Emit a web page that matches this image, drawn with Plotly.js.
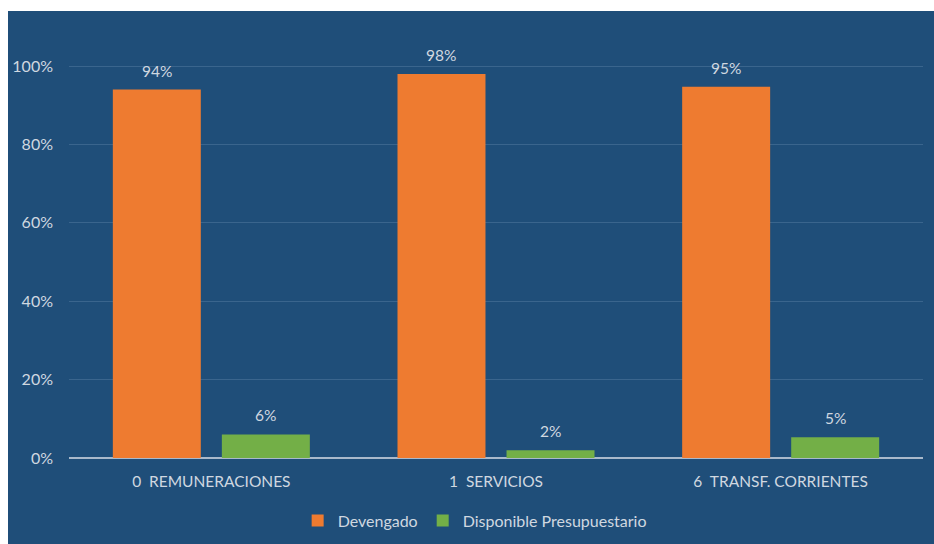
<!DOCTYPE html>
<html>
<head>
<meta charset="utf-8">
<script src="https://cdn.plot.ly/plotly-3.0.1.min.js"></script>
<style>
html,body{margin:0;padding:0;background:#ffffff;}
#chart{position:absolute;left:8px;top:11px;width:926px;height:533px;}
</style>
</head>
<body>
<div id="chart"></div>
<script>
const categories = ["0\u00a0\u00a0REMUNERACIONES", "1\u00a0\u00a0SERVICIOS", "6\u00a0\u00a0TRANSF.\u00a0CORRIENTES"];
const devengado = [0.94, 0.98, 0.947];
const disponible = [0.06, 0.02, 0.053];
const seriesNames = ["Devengado", "Disponible Presupuestario"];
const yTickVals = [0, 0.2, 0.4, 0.6, 0.8, 1.0];

const txtColor = "#D0D8E0";
const fontFam = "Lato, 'Open Sans', 'Liberation Sans', sans-serif";

const bargap = 0.234;
const bargroupgap = 0.193;
const barOffset = (1 - bargap) / 4; // centre of each bar relative to category centre

const traces = [
  {
    type: "bar", name: seriesNames[0], x: categories, y: devengado,
    marker: {color: "#EE7B30", line: {width: 0}},
    hoverinfo: "skip"
  },
  {
    type: "bar", name: seriesNames[1], x: categories, y: disponible,
    marker: {color: "#73AF47", line: {width: 0}},
    hoverinfo: "skip"
  }
];

const annotations = [];
[devengado, disponible].forEach((vals, s) => {
  vals.forEach((v, i) => {
    annotations.push({
      xref: "x", yref: "y",
      x: i + (s === 0 ? -barOffset : barOffset), y: v,
      text: Math.round(v * 100) + "%",
      showarrow: false, yanchor: "bottom", xanchor: "center", yshift: 8,
      font: {color: txtColor, size: 15.5, family: fontFam}
    });
  });
});

const layout = {
  width: 926, height: 533,
  paper_bgcolor: "#1F4E79",
  plot_bgcolor: "#1F4E79",
  margin: {l: 61, r: 11, t: 8, b: 85},
  font: {family: fontFam, color: txtColor, size: 15},
  barmode: "group",
  bargap: bargap,
  bargroupgap: bargroupgap,
  showlegend: true,
  legend: {
    orientation: "h", x: 0.475, xanchor: "center", y: -0.14, yanchor: "middle",
    font: {size: 16, color: txtColor, family: fontFam},
    itemwidth: 30, itemclick: false, bgcolor: "rgba(0,0,0,0)"
  },
  xaxis: {
    type: "category",
    showgrid: false, showline: false, ticks: "", zeroline: false,
    ticklabelstandoff: 12,
    tickfont: {size: 15.5, color: txtColor, family: fontFam}
  },
  yaxis: {
    range: [0, 1.12],
    tickvals: yTickVals, tickformat: ".0%",
    showgrid: true, gridcolor: "#3A658D", gridwidth: 1,
    zeroline: true, zerolinecolor: "#A9B9CB", zerolinewidth: 1.5,
    showline: false, ticks: "", ticklabelstandoff: 15,
    tickfont: {size: 16, color: txtColor, family: fontFam}
  },
  annotations: annotations
};

Plotly.newPlot("chart", traces, layout, {displayModeBar: false, staticPlot: true});
</script>
</body>
</html>
